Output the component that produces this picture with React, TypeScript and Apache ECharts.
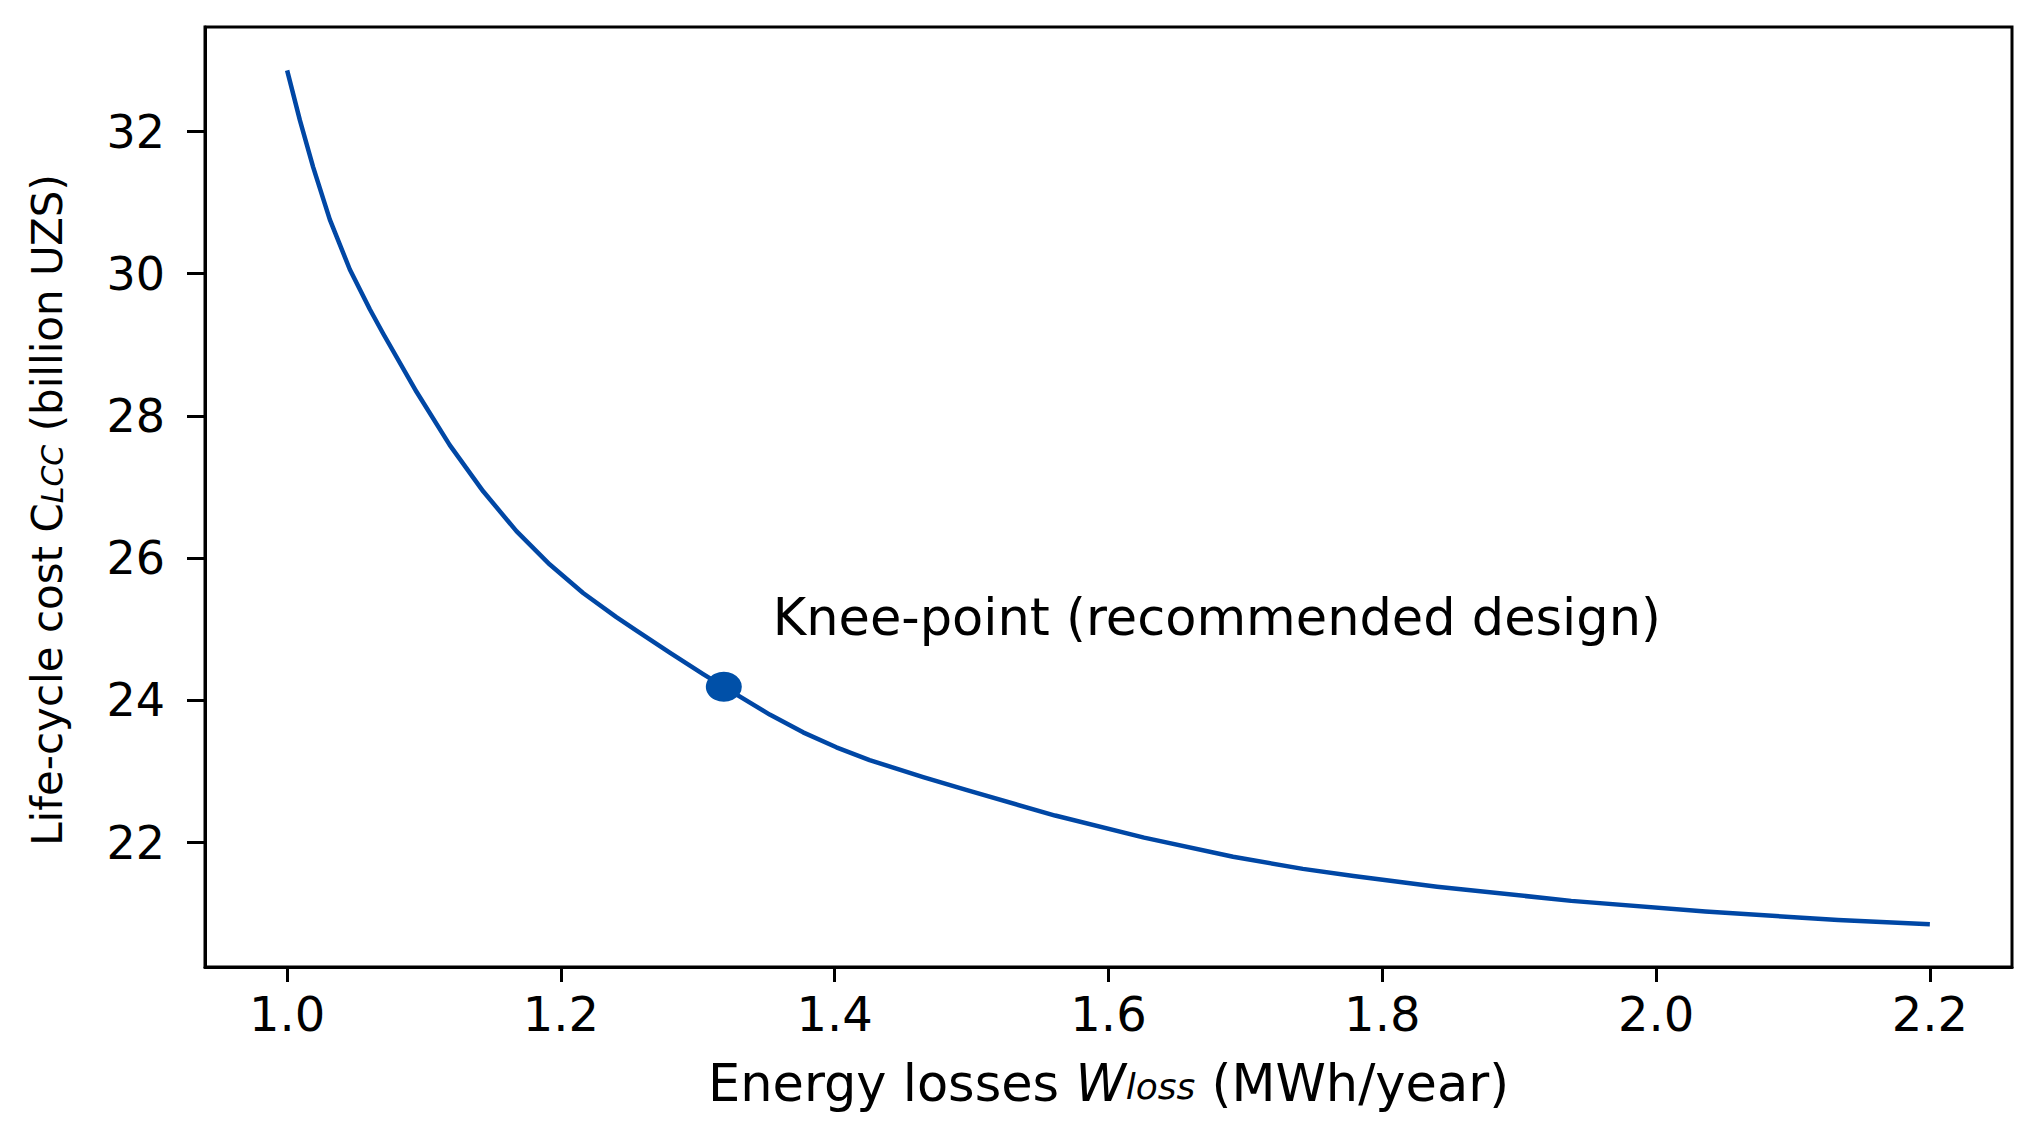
import React, { useEffect, useRef } from 'react';
import * as echarts from 'echarts';

// Energy losses W_loss (MWh/year)
const wLoss = [
  1.0, 1.0093, 1.019, 1.0312, 1.0458, 1.0604, 1.0701, 1.0945, 1.1188, 1.1432,
  1.1675, 1.1919, 1.2162, 1.2405, 1.2552, 1.2795, 1.3039, 1.319, 1.3525,
  1.3769, 1.4012, 1.4255, 1.4646, 1.496, 1.561, 1.626, 1.691, 1.742, 1.779,
  1.84, 1.938, 2.036, 2.133, 2.2,
];
// Life-cycle cost C_LCC (billion UZS)
const cLcc = [
  32.86, 32.16, 31.5, 30.76, 30.06, 29.5, 29.16, 28.34, 27.59, 26.94,
  26.38, 25.91, 25.51, 25.17, 24.98, 24.67, 24.37, 24.19, 23.8,
  23.55, 23.34, 23.16, 22.92, 22.74, 22.38, 22.07, 21.8, 21.63, 21.53,
  21.38, 21.18, 21.03, 20.91, 20.85,
];
const kneePoint = [1.319, 24.19];
const kneeLabel = 'Knee-point (recommended design)';
const xTicks = [1.0, 1.2, 1.4, 1.6, 1.8, 2.0, 2.2];
const yTicks = [22, 24, 26, 28, 30, 32];

const FONT = 'DejaVu Sans';
const LINE_COLOR = '#0047A5';
const MARK_COLOR = '#0050A8';

export default function App() {
  const ref = useRef<HTMLDivElement>(null);

  useEffect(() => {
    if (!ref.current) return;
    const chart = echarts.init(ref.current, null, { renderer: 'svg' });
    const xMain = {
      fontSize: 51,
      fontFamily: FONT,
      color: '#000',
      lineHeight: 56,
      verticalAlign: 'top',
    };
    const xSub = {
      fontSize: 36,
      fontFamily: FONT,
      color: '#000',
      fontStyle: 'italic',
      lineHeight: 56,
      padding: [10, 0, 0, 0],
      verticalAlign: 'top',
    };
    const yMain = {
      fontSize: 42,
      fontFamily: FONT,
      color: '#000',
      lineHeight: 46,
      verticalAlign: 'top',
    };
    const ySub = {
      fontSize: 30,
      fontFamily: FONT,
      color: '#000',
      fontStyle: 'italic',
      lineHeight: 46,
      padding: [11, 0, 0, 0],
      verticalAlign: 'top',
    };
    chart.setOption({
      animation: false,
      backgroundColor: '#ffffff',
      textStyle: { fontFamily: FONT },
      grid: {
        left: 205,
        top: 27,
        right: 23,
        bottom: 164,
        show: true,
        borderColor: '#000',
        borderWidth: 3,
        backgroundColor: 'transparent',
      },
      xAxis: {
        type: 'value',
        min: 0.94,
        max: 2.26,
        splitLine: { show: false },
        axisLine: { show: true, onZero: false, lineStyle: { color: '#000', width: 3 } },
        axisTick: {
          show: true,
          length: 15,
          customValues: xTicks,
          lineStyle: { color: '#000', width: 3 },
        },
        axisLabel: {
          customValues: xTicks,
          formatter: (v: number) => v.toFixed(1),
          color: '#000',
          fontFamily: FONT,
          fontSize: 48,
          margin: 23,
        },
        name: '{a|Energy losses }{w|W}{s|loss}{a| (MWh/year)}',
        nameLocation: 'middle',
        nameGap: 91,
        nameTextStyle: {
          rich: {
            a: xMain,
            w: { ...xMain, fontStyle: 'italic' },
            s: xSub,
          },
        },
      },
      yAxis: {
        type: 'value',
        min: 20.25,
        max: 33.47,
        splitLine: { show: false },
        axisLine: { show: true, onZero: false, lineStyle: { color: '#000', width: 3 } },
        axisTick: {
          show: true,
          length: 18,
          customValues: yTicks,
          lineStyle: { color: '#000', width: 3 },
        },
        axisLabel: {
          customValues: yTicks,
          formatter: (v: number) => String(v),
          color: '#000',
          fontFamily: FONT,
          fontSize: 46,
          margin: 40,
        },
        name: '{a|Life-cycle cost C}{s|LCC}{a| (billion UZS)}',
        nameLocation: 'middle',
        nameRotate: 90,
        nameGap: 133,
        nameTextStyle: {
          padding: [0, 26, 0, 0],
          rich: {
            a: yMain,
            s: ySub,
          },
        },
      },
      series: [
        {
          type: 'line',
          data: wLoss.map((x, i) => [x, cLcc[i]]),
          showSymbol: false,
          smooth: false,
          lineStyle: { color: LINE_COLOR, width: 4.5, join: 'round', cap: 'butt' },
          z: 2,
        },
        {
          type: 'scatter',
          data: [kneePoint],
          symbol: 'circle',
          symbolSize: [36, 30],
          itemStyle: { color: MARK_COLOR, opacity: 1 },
          z: 3,
          label: {
            show: true,
            formatter: kneeLabel,
            position: [67, -54],
            align: 'left',
            verticalAlign: 'middle',
            color: '#000',
            textBorderWidth: 0,
            textBorderColor: 'transparent',
            fontFamily: FONT,
            fontSize: 51,
          },
        },
      ],
    });
    return () => chart.dispose();
  }, []);

  return (
    <div
      ref={ref}
      style={{ position: 'fixed', left: 0, top: 0, width: 2035, height: 1131, background: '#fff' }}
    />
  );
}
